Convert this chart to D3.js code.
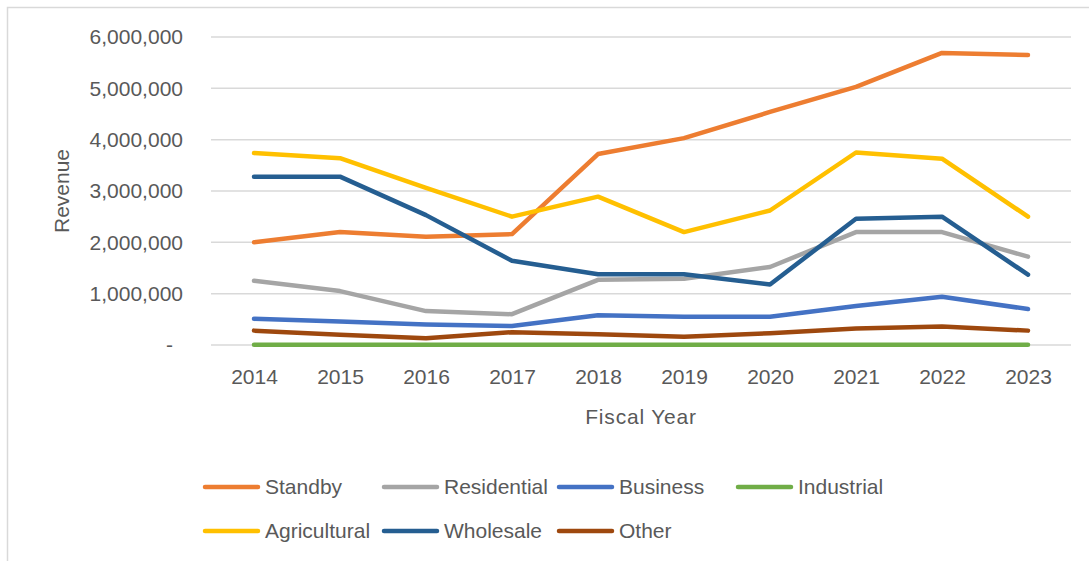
<!DOCTYPE html>
<html>
<head>
<meta charset="utf-8">
<script src="https://cdn.jsdelivr.net/npm/d3@7"></script>
<style>
  html, body { margin: 0; padding: 0; background: #fff; }
  svg { display: block; }
  text { font-family: "Liberation Sans", Arial, sans-serif; fill: #595959; }
</style>
</head>
<body>
<svg id="chart" width="1089" height="561"></svg>
<script>
const years = ["2014","2015","2016","2017","2018","2019","2020","2021","2022","2023"];
const yTicks = [0, 1000000, 2000000, 3000000, 4000000, 5000000, 6000000];
const yTickLabels = ["-", "1,000,000", "2,000,000", "3,000,000", "4,000,000", "5,000,000", "6,000,000"];
const seriesNames = ["Standby","Residential","Business","Industrial","Agricultural","Wholesale","Other"];
const seriesColors = ["#ED7D31","#A5A5A5","#4472C4","#70AD47","#FFC000","#255E91","#9E480E"];

const standby      = [2000000, 2200000, 2110000, 2160000, 3720000, 4030000, 4540000, 5030000, 5690000, 5650000];
const residential  = [1250000, 1050000,  660000,  600000, 1270000, 1290000, 1520000, 2200000, 2200000, 1720000];
const business     = [ 510000,  460000,  400000,  370000,  580000,  550000,  550000,  760000,  940000,  700000];
const industrial   = [   5000,    5000,    5000,    5000,    5000,    5000,    5000,    5000,    5000,    5000];
const agricultural = [3740000, 3640000, 3060000, 2500000, 2890000, 2200000, 2620000, 3750000, 3630000, 2500000];
const wholesale    = [3280000, 3280000, 2530000, 1640000, 1380000, 1380000, 1180000, 2460000, 2500000, 1370000];
const other        = [ 280000,  200000,  130000,  250000,  210000,  160000,  230000,  320000,  360000,  280000];

const seriesValues = [standby, residential, business, industrial, agricultural, wholesale, other];

const svg = d3.select("#chart");
const FS = 21;

// outer border
svg.append("rect")
  .attr("x", 7.5).attr("y", 7.5)
  .attr("width", 1200).attr("height", 700)
  .attr("fill", "none").attr("stroke", "#d9d9d9").attr("stroke-width", 1.5);

const plot = { left: 211, right: 1071, top: 37, bottom: 345 };

const x = d3.scalePoint().domain(years).range([plot.left, plot.right]).padding(0.5);
const y = d3.scaleLinear().domain([0, 6000000]).range([plot.bottom, plot.top]);

// gridlines
svg.append("g")
  .selectAll("line")
  .data(yTicks)
  .join("line")
  .attr("x1", plot.left).attr("x2", plot.right)
  .attr("y1", d => y(d)).attr("y2", d => y(d))
  .attr("stroke", "#d9d9d9").attr("stroke-width", 1.5);

// y axis labels
const yAxis = d3.axisLeft(y)
  .tickValues(yTicks)
  .tickSize(0)
  .tickPadding(0)
  .tickFormat((d, i) => yTickLabels[i]);
const gy = svg.append("g").attr("transform", `translate(183,0)`).call(yAxis);
gy.select(".domain").remove();
gy.selectAll("text")
  .attr("font-size", FS)
  .attr("fill", "#595959")
  .attr("font-family", "Liberation Sans, Arial, sans-serif")
  .attr("x", d => d === 0 ? -10 : 0);

// x axis labels
const xAxis = d3.axisBottom(x).tickSize(0).tickPadding(0);
const gx = svg.append("g").attr("transform", `translate(0,${plot.bottom + 24})`).call(xAxis);
gx.select(".domain").remove();
gx.selectAll("text")
  .attr("font-size", FS)
  .attr("fill", "#595959")
  .attr("font-family", "Liberation Sans, Arial, sans-serif");

// axis titles
svg.append("text")
  .attr("x", (plot.left + plot.right) / 2).attr("y", 424)
  .attr("text-anchor", "middle")
  .attr("font-size", FS)
  .attr("letter-spacing", 0.8)
  .text("Fiscal Year");

svg.append("text")
  .attr("transform", `translate(69,${(plot.top + plot.bottom) / 2}) rotate(-90)`)
  .attr("text-anchor", "middle")
  .attr("font-size", FS)
  .text("Revenue");

// lines
const line = d3.line().x((d, i) => x(years[i])).y(d => y(d));
svg.append("g")
  .selectAll("path")
  .data(seriesValues)
  .join("path")
  .attr("d", d => line(d))
  .attr("fill", "none")
  .attr("stroke", (d, i) => seriesColors[i])
  .attr("stroke-width", 4.5)
  .attr("stroke-linejoin", "round")
  .attr("stroke-linecap", "round");

// legend
const colX = [205, 384, 559, 738];
const rowY = [487, 531];
const leg = svg.append("g")
  .selectAll("g")
  .data(seriesNames)
  .join("g")
  .attr("transform", (d, i) => `translate(${colX[i % 4]},${rowY[Math.floor(i / 4)]})`);
leg.append("line")
  .attr("x1", 0).attr("x2", 53).attr("y1", 0).attr("y2", 0)
  .attr("stroke", (d, i) => seriesColors[i])
  .attr("stroke-width", 4.5)
  .attr("stroke-linecap", "round");
leg.append("text")
  .attr("x", 60).attr("y", 0)
  .attr("dy", "0.35em")
  .attr("font-size", FS)
  .text(d => d);
</script>
</body>
</html>
